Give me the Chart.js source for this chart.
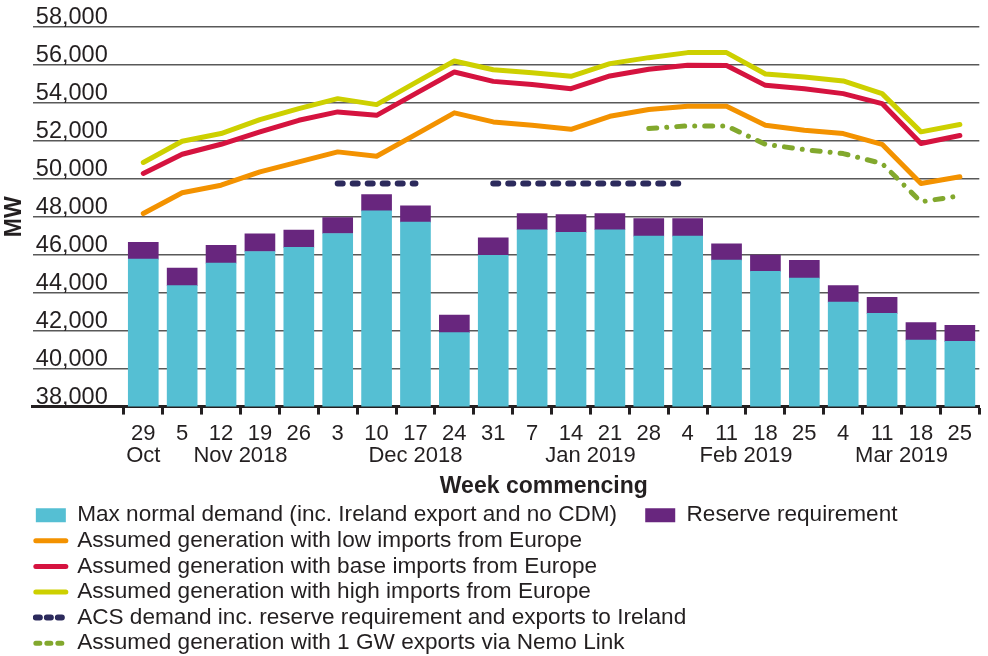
<!DOCTYPE html>
<html>
<head>
<meta charset="utf-8">
<title>Winter 2018/19 weekly demand and generation</title>
<script src="https://cdn.jsdelivr.net/npm/chart.js@4.4.1/dist/chart.umd.min.js"></script>
<style>
  html, body { margin: 0; padding: 0; background: #fff; }
  #wrap { width: 988px; height: 656px; position: relative; }
</style>
</head>
<body>
<div id="wrap"><canvas id="chart"></canvas></div>
<script>
var weekDays = ['29', '5', '12', '19', '26', '3', '10', '17', '24', '31', '7',
  '14', '21', '28', '4', '11', '18', '25', '4', '11', '18', '25'];
var monthLabels = ['Oct', 'Nov 2018', 'Dec 2018', 'Jan 2019', 'Feb 2019', 'Mar 2019'];
var monthAt = [0.5, 3, 7.5, 12, 16, 20]; // in week units along the x axis

var maxDemand = [45770, 44370, 45560, 46170, 46385, 47120, 48315, 47715, 41895, 45965, 47315,
  47175, 47315, 46980, 46980, 45715, 45120, 44770, 43505, 42910, 41505, 41435];
var reserve = [880, 925, 930, 935, 910, 840, 855, 865, 925, 930, 860,
  945, 860, 930, 930, 865, 860, 930, 865, 840, 915, 845];
var lowImports = [48170, 49265, 49665, 50370, 50895, 51420, 51190, 52330, 53475, 53000, 52820,
  52610, 53295, 53650, 53820, 53820, 52820, 52560, 52385, 51820, 49750, 50105];
var baseImports = [50280, 51295, 51820, 52475, 53085, 53525, 53345, 54490, 55630, 55135, 54965,
  54750, 55420, 55770, 55980, 55970, 54925, 54750, 54490, 53965, 51860, 52280];
var highImports = [50860, 51980, 52385, 53120, 53700, 54225, 53910, 55070, 56210, 55750, 55595,
  55400, 56070, 56385, 56650, 56650, 55525, 55370, 55160, 54490, 52475, 52860];
var acsDemand = [null, null, null, null, null, 49760, 49760, 49760, null, 49760, 49760,
  49760, 49760, 49760, 49760, null, null, null, null, null, null, null];
var nemoExports = [null, null, null, null, null, null, null, null, null, null, null,
  null, null, 52650, 52790, 52790, 51820, 51540, 51330, 50805, 48790, 49105];

var ink = '#231f20';
var fontName = "'Liberation Sans', Arial, sans-serif";
var leftGap = 2.34; // empty stretch left of the first week, in week units

Chart.defaults.font.family = fontName;
Chart.defaults.color = ink;

// each week sits at the middle of its slot, tick marks at the slot edges
var xPos = weekDays.map(function (d, i) { return i + 0.5; });

function tickValues() {
  var v = [];
  for (var i = 0; i <= weekDays.length; i++) {
    v.push(i);
    if (i < weekDays.length) v.push(i + 0.5);
  }
  return v;
}

function xLabel(value) {
  var day = value % 1 !== 0 ? weekDays[value - 0.5] : '';
  var m = monthAt.indexOf(value);
  return [day, m >= 0 ? monthLabels[m] : ''];
}

var axisTitle = {
  id: 'axisTitle',
  afterDraw: function (chart) {
    var x = chart.scales.x;
    var ctx = chart.ctx;
    ctx.save();
    ctx.font = 'bold 23px ' + fontName;
    ctx.fillStyle = ink;
    ctx.textAlign = 'center';
    ctx.textBaseline = 'middle';
    ctx.fillText('Week commencing', x.getPixelForValue(10.8), x.bottom - 14);
    ctx.restore();
  }
};

function lineSet(label, data, color, stack) {
  return {
    type: 'line',
    label: label,
    data: data,
    stack: stack,
    borderColor: color,
    backgroundColor: color,
    borderWidth: 5,
    borderCapStyle: 'round',
    borderJoinStyle: 'round',
    pointRadius: 0,
    pointHoverRadius: 0,
    tension: 0,
    spanGaps: false
  };
}

var acs = lineSet('ACS demand inc. reserve requirement and exports to Ireland', acsDemand, '#2c2a5c', 'acs');
acs.borderWidth = 6;
acs.borderDash = [5, 10];
var nemo = lineSet('Assumed generation with 1 GW exports via Nemo Link', nemoExports, '#82a82d', 'nemo');
nemo.borderDash = [8, 10, 0.01, 10];

new Chart(document.getElementById('chart'), {
  data: {
    labels: xPos,
    datasets: [
      {
        type: 'bar',
        label: 'Max normal demand (inc. Ireland export and no CDM)',
        data: maxDemand,
        stack: 'demand',
        backgroundColor: '#55bfd3',
        borderWidth: 0,
        barThickness: 30
      },
      {
        type: 'bar',
        label: 'Reserve requirement',
        data: reserve,
        stack: 'demand',
        backgroundColor: '#68267e',
        borderWidth: 0,
        barThickness: 30
      },
      lineSet('Assumed generation with low imports from Europe', lowImports, '#f39200', 'low'),
      lineSet('Assumed generation with base imports from Europe', baseImports, '#d5133f', 'base'),
      lineSet('Assumed generation with high imports from Europe', highImports, '#cdd000', 'high'),
      acs,
      nemo
    ]
  },
  options: {
    responsive: true,
    maintainAspectRatio: false,
    animation: false,
    layout: { padding: { top: 27, right: 8, bottom: -8.5, left: 0 } },
    plugins: {
      tooltip: { enabled: false },
      legend: {
        position: 'bottom',
        align: 'start',
        fullSize: false,
        labels: {
          usePointStyle: true,
          pointStyleWidth: 30,
          boxHeight: 14,
          padding: 3,
          color: ink,
          font: { size: 22.6 },
          generateLabels: function (chart) {
            var items = Chart.defaults.plugins.legend.labels.generateLabels(chart);
            items.forEach(function (it) {
              var ds = chart.data.datasets[it.datasetIndex];
              if (ds.type === 'bar') {
                it.pointStyle = 'rect';
                it.lineWidth = 0;
              } else {
                it.pointStyle = 'line';
                it.lineCap = 'round';
                if (ds.borderDash) it.lineDash = [4, 7];
              }
            });
            items[0].text += '    ';
            return items;
          }
        }
      }
    },
    scales: {
      x: {
        type: 'linear',
        stacked: true,
        offset: false,
        min: -leftGap,
        max: weekDays.length,
        afterBuildTicks: function (scale) {
          scale.ticks = tickValues().map(function (v) { return { value: v }; });
        },
        border: { display: true, color: ink, width: 3 },
        grid: {
          display: true,
          offset: false,
          drawOnChartArea: false,
          tickLength: 8,
          tickWidth: 3,
          tickColor: function (c) {
            return c.tick && Number.isInteger(c.tick.value) ? ink : 'rgba(0,0,0,0)';
          }
        },
        ticks: {
          autoSkip: false,
          maxRotation: 0,
          minRotation: 0,
          padding: 8.7,
          color: ink,
          font: { size: 22, lineHeight: 1 },
          callback: function (v) { return xLabel(v); }
        },
        title: { display: true, text: '', font: { size: 23, weight: 'bold', lineHeight: 1.084 }, padding: { top: 0, bottom: 0 } }
      },
      y: {
        stacked: true,
        min: 38000,
        max: 58000,
        border: { display: false },
        grid: { color: '#595959', lineWidth: 1.5, drawTicks: false },
        ticks: {
          stepSize: 2000,
          mirror: true,
          padding: 3,
          labelOffset: -9,
          color: ink,
          font: { size: 23.5 },
          callback: function (v) { return v.toLocaleString('en-US'); }
        },
        title: { display: true, text: 'MW', color: ink, font: { size: 23, weight: 'bold', lineHeight: 1.08 }, padding: { top: 2, bottom: 0 } }
      }
    }
  },
  plugins: [axisTitle]
});
</script>
</body>
</html>
